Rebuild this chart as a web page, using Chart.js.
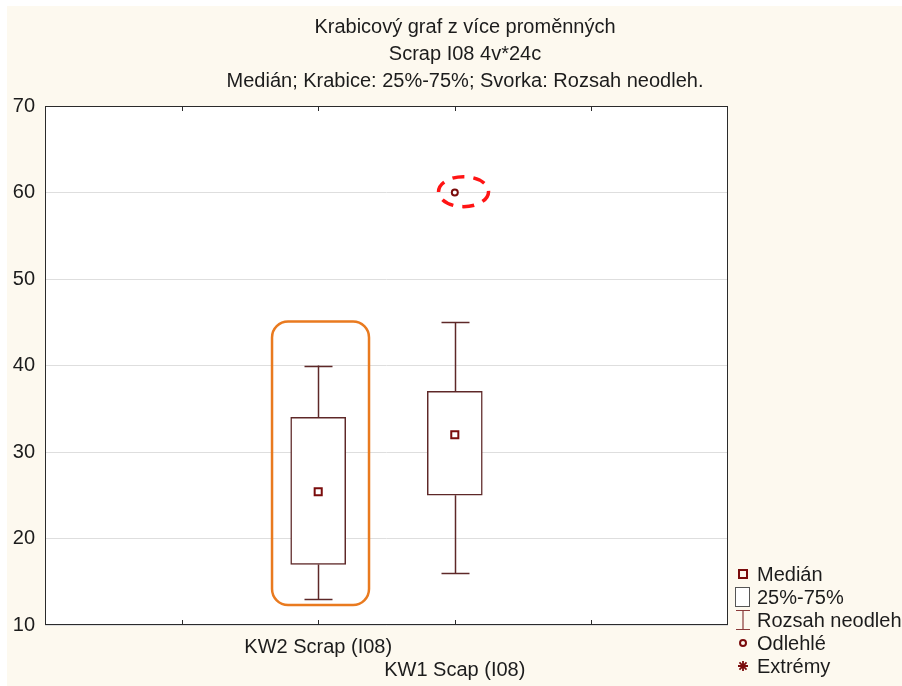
<!DOCTYPE html>
<html>
<head>
<meta charset="utf-8">
<script src="https://cdn.jsdelivr.net/npm/chart.js@4.4.1/dist/chart.umd.min.js"></script>
<style>
    html, body { margin: 0; padding: 0; background: #fff; }
</style>
</head>
<body>
<canvas id="boxChart" width="902" height="686"></canvas>
<script>
// Data
const titleLines = ['Krabicový graf z více proměnných', 'Scrap I08 4v*24c', 'Medián; Krabice: 25%-75%; Svorka: Rozsah neodleh.'];
const categories = ['KW2 Scrap (I08)', 'KW1 Scap (I08)'];
const positions = [2, 3];
const whiskerLow = [13, 16];
const q1 = [17, 25];
const medians = [25.4, 32];
const q3 = [34, 37];
const whiskerHigh = [40, 45];
const outlierX = [3];
const outlierY = [60];
const yTicks = [10, 20, 30, 40, 50, 60, 70];
const xTicks = [0, 1, 2, 3, 4, 5];
const legendLabels = ['Medián', '25%-75%', 'Rozsah neodleh', 'Odlehlé', 'Extrémy'];

const FONT = "'Liberation Sans', Arial, sans-serif";
const boxColor = '#5e2828';
const markColor = '#7a0c0c';
const cream = '#fdf9ef';

// Background, plot frame, whiskers, title, legend and highlight marks
const boxPlotExtras = {
    id: 'boxPlotExtras',
    beforeDraw(chart) {
        const { ctx, chartArea: a } = chart;
        ctx.save();
        ctx.fillStyle = '#fff';
        ctx.fillRect(0, 0, chart.width, chart.height);
        ctx.fillStyle = cream;
        ctx.fillRect(7, 6, chart.width - 7, chart.height - 6);
        ctx.fillStyle = '#fff';
        ctx.fillRect(a.left, a.top, a.right - a.left, a.bottom - a.top);
        ctx.restore();
    },
    afterDatasetsDraw(chart) {
        const { ctx, chartArea: a, scales: { x, y } } = chart;
        ctx.save();

        // whiskers
        ctx.strokeStyle = boxColor;
        ctx.lineWidth = 1.5;
        const cap = 14;
        positions.forEach((p, i) => {
            const cx = Math.round(x.getPixelForValue(p)) + 0.5;
            const segs = [[whiskerHigh[i], q3[i]], [q1[i], whiskerLow[i]]];
            segs.forEach(([from, to]) => {
                ctx.beginPath();
                ctx.moveTo(cx, y.getPixelForValue(from));
                ctx.lineTo(cx, y.getPixelForValue(to));
                ctx.stroke();
            });
            [whiskerHigh[i], whiskerLow[i]].forEach(v => {
                const py = Math.round(y.getPixelForValue(v)) + 0.5;
                ctx.beginPath();
                ctx.moveTo(cx - cap, py);
                ctx.lineTo(cx + cap, py);
                ctx.stroke();
            });
        });

        // frame and inner tick marks
        ctx.strokeStyle = '#2b2b2b';
        ctx.lineWidth = 1;
        ctx.strokeRect(a.left + 0.5, a.top + 0.5, a.right - a.left - 1, a.bottom - a.top - 1);
        xTicks.slice(1, -1).forEach(v => {
            const tx = Math.round(x.getPixelForValue(v)) + 0.5;
            ctx.beginPath();
            ctx.moveTo(tx, a.bottom);
            ctx.lineTo(tx, a.bottom - 5);
            ctx.moveTo(tx, a.top);
            ctx.lineTo(tx, a.top + 5);
            ctx.stroke();
        });

        // orange highlight round KW2
        const rx0 = x.getPixelForValue(1.662), rx1 = x.getPixelForValue(2.372);
        const ry0 = y.getPixelForValue(45.1), ry1 = y.getPixelForValue(12.3);
        ctx.strokeStyle = '#e97a1f';
        ctx.lineWidth = 2.5;
        ctx.beginPath();
        ctx.roundRect(rx0, ry0, rx1 - rx0, ry1 - ry0, 16);
        ctx.stroke();

        // red dashed ellipse round the outlier
        ctx.strokeStyle = '#ff1414';
        ctx.lineWidth = 3.5;
        ctx.setLineDash([12, 9]);
        ctx.beginPath();
        ctx.ellipse(x.getPixelForValue(3.064), y.getPixelForValue(60.1), 25, 15, 0, 0, Math.PI * 2);
        ctx.stroke();
        ctx.setLineDash([]);

        // title
        ctx.fillStyle = '#1c1c1c';
        ctx.font = '20px ' + FONT;
        ctx.textAlign = 'center';
        ctx.textBaseline = 'alphabetic';
        titleLines.forEach((t, i) => ctx.fillText(t, 465, 33 + i * 27));

        // legend
        const lx = 743, ly = 574, step = 23;
        ctx.textAlign = 'left';
        ctx.textBaseline = 'middle';
        legendLabels.forEach((t, i) => {
            const cy = ly + i * step;
            ctx.fillStyle = '#1c1c1c';
            ctx.fillText(t, 757, cy + 1);
            ctx.strokeStyle = markColor;
            ctx.fillStyle = markColor;
            ctx.lineWidth = 2;
            if (i === 0) {
                ctx.strokeRect(lx - 4, cy - 4, 8, 8);
            } else if (i === 1) {
                ctx.strokeStyle = '#555';
                ctx.lineWidth = 1;
                ctx.fillStyle = '#fff';
                ctx.fillRect(735.5, cy - 9.5, 14, 19);
                ctx.strokeRect(735.5, cy - 9.5, 14, 19);
            } else if (i === 2) {
                ctx.strokeStyle = '#8a3a3a';
                ctx.lineWidth = 1.2;
                ctx.beginPath();
                ctx.moveTo(736, cy - 9.5); ctx.lineTo(750, cy - 9.5);
                ctx.moveTo(743, cy - 9.5); ctx.lineTo(743, cy + 9.5);
                ctx.moveTo(736, cy + 9.5); ctx.lineTo(750, cy + 9.5);
                ctx.stroke();
            } else if (i === 3) {
                ctx.beginPath();
                ctx.arc(lx, cy, 3, 0, Math.PI * 2);
                ctx.stroke();
            } else {
                ctx.lineWidth = 1.8;
                ctx.beginPath();
                for (let k = 0; k < 4; k++) {
                    const ang = k * Math.PI / 4;
                    ctx.moveTo(lx - 5 * Math.cos(ang), cy - 5 * Math.sin(ang));
                    ctx.lineTo(lx + 5 * Math.cos(ang), cy + 5 * Math.sin(ang));
                }
                ctx.stroke();
            }
        });
        ctx.restore();
    }
};

const ctx = document.getElementById('boxChart');
new Chart(ctx, {
    type: 'bar',
    data: {
        datasets: [{
            type: 'bar',
            label: '25%-75%',
            data: positions.map((p, i) => ({ x: p, y: [q1[i], q3[i]] })),
            backgroundColor: '#fff',
            borderColor: boxColor,
            borderWidth: 1.5,
            borderSkipped: false,
            barThickness: 55,
            order: 3
        }, {
            type: 'scatter',
            label: 'Medián',
            data: positions.map((p, i) => ({ x: p, y: medians[i] })),
            pointStyle: 'rect',
            pointRadius: 5,
            pointBorderWidth: 2,
            borderColor: markColor,
            backgroundColor: '#fff',
            order: 1
        }, {
            type: 'scatter',
            label: 'Odlehlé',
            data: outlierX.map((p, i) => ({ x: p, y: outlierY[i] })),
            pointStyle: 'circle',
            pointRadius: 3,
            pointBorderWidth: 2,
            borderColor: markColor,
            backgroundColor: '#fff',
            order: 2
        }]
    },
    options: {
        responsive: false,
        animation: false,
        layout: { padding: { top: 106, right: 174, bottom: 0, left: 0 } },
        plugins: {
            legend: { display: false },
            title: { display: false },
            tooltip: { enabled: false }
        },
        scales: {
            x: {
                type: 'linear',
                min: 0,
                max: 5,
                offset: false,
                afterBuildTicks: scale => { scale.ticks = xTicks.map(v => ({ value: v })); },
                afterFit: scale => { scale.height = 61; },
                grid: { display: false },
                border: { display: false },
                ticks: {
                    autoSkip: false,
                    maxRotation: 0,
                    minRotation: 0,
                    padding: 3,
                    color: '#1c1c1c',
                    font: { family: FONT, size: 20, lineHeight: 1.15 },
                    callback: v => {
                        const i = positions.indexOf(v);
                        if (i < 0) return '';
                        return i % 2 === 0 ? categories[i] : ['', categories[i]];
                    }
                }
            },
            y: {
                min: 10,
                max: 70,
                afterBuildTicks: scale => { scale.ticks = yTicks.map(v => ({ value: v })); },
                afterFit: scale => { scale.width = 45; },
                grid: { color: '#dedede', drawTicks: false },
                border: { display: false },
                ticks: {
                    padding: 10,
                    color: '#1c1c1c',
                    font: { family: FONT, size: 20 }
                }
            }
        }
    },
    plugins: [boxPlotExtras]
});
</script>
</body>
</html>
